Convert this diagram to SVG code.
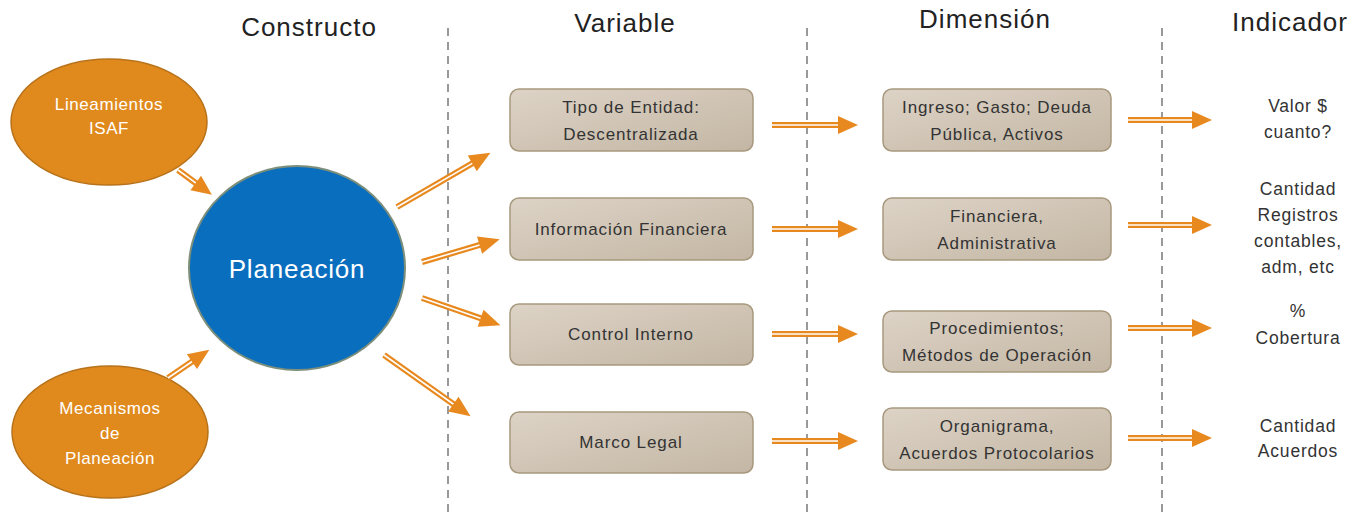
<svg xmlns="http://www.w3.org/2000/svg" width="1363" height="516" viewBox="0 0 1363 516">
<defs>
<linearGradient id="boxg" x1="0" y1="0" x2="1" y2="1">
<stop offset="0" stop-color="#ddd3c6"/>
<stop offset="1" stop-color="#c3b6a4"/>
</linearGradient>
<style>
.hdr{font-family:"Liberation Sans",Arial,sans-serif;font-size:26px;letter-spacing:1px;fill:#222;text-anchor:middle}
.div{stroke:#999;stroke-width:2;stroke-dasharray:8 6;fill:none}
.box{fill:url(#boxg);stroke:#a8997e;stroke-width:1.5}
.bt{font-family:"Liberation Sans",Arial,sans-serif;font-size:17px;letter-spacing:0.9px;fill:#333;text-anchor:middle}
.it{font-family:"Liberation Sans",Arial,sans-serif;font-size:17.5px;letter-spacing:0.8px;fill:#333;text-anchor:middle}
.oe{fill:#e08a1d;stroke:#b8721a;stroke-width:1.5}
.ot{font-family:"Liberation Sans",Arial,sans-serif;font-size:17px;letter-spacing:0.6px;fill:#fff;text-anchor:middle}
.sh{stroke:#e8891f;stroke-width:6;fill:none}
.core{stroke:#fff;stroke-width:1.6;fill:none}
.hd{fill:#e8891f}
</style>
</defs>
<rect width="1363" height="516" fill="#fff"/>
<g id="dividers">
<line class="div" x1="448" y1="28" x2="448" y2="516"/>
<line class="div" x1="807" y1="28" x2="807" y2="516"/>
<line class="div" x1="1162" y1="28" x2="1162" y2="516"/>
</g>
<g id="headers">
<text class="hdr" x="309" y="36">Constructo</text>
<text class="hdr" x="625" y="32">Variable</text>
<text class="hdr" x="985" y="28">Dimensión</text>
<text class="hdr" x="1290" y="31">Indicador</text>
</g>
<g id="node-lineamientos">
<ellipse class="oe" cx="109" cy="122" rx="98" ry="63"/>
<text class="ot" x="109" y="110">Lineamientos</text>
<text class="ot" x="109" y="134">ISAF</text>
</g>
<g id="node-mecanismos">
<ellipse class="oe" cx="110" cy="432" rx="98" ry="66"/>
<text class="ot" x="110" y="414">Mecanismos</text>
<text class="ot" x="110" y="439">de</text>
<text class="ot" x="110" y="464">Planeación</text>
</g>
<g id="node-planeacion">
<ellipse cx="297" cy="268" rx="108" ry="102" fill="#0a6ebf" stroke="#7d8f7a" stroke-width="2"/>
<text x="297" y="278" font-family="Liberation Sans, Arial, sans-serif" font-size="26" letter-spacing="0.8" fill="#fff" text-anchor="middle">Planeación</text>
</g>
<g id="node-v1"><rect class="box" x="510" y="89" width="243" height="62" rx="9"/><text class="bt" x="631" y="113">Tipo de Entidad:</text><text class="bt" x="631" y="140">Descentralizada</text></g>
<g id="node-v2"><rect class="box" x="510" y="198" width="243" height="62" rx="9"/><text class="bt" x="631" y="235">Información Financiera</text></g>
<g id="node-v3"><rect class="box" x="510" y="304" width="243" height="61" rx="9"/><text class="bt" x="631" y="340">Control Interno</text></g>
<g id="node-v4"><rect class="box" x="510" y="412" width="243" height="61" rx="9"/><text class="bt" x="631" y="448">Marco Legal</text></g>
<g id="node-d1"><rect class="box" x="883" y="89" width="228" height="62" rx="9"/><text class="bt" x="997" y="113">Ingreso; Gasto; Deuda</text><text class="bt" x="997" y="140">Pública, Activos</text></g>
<g id="node-d2"><rect class="box" x="883" y="198" width="228" height="62" rx="9"/><text class="bt" x="997" y="222">Financiera,</text><text class="bt" x="997" y="249">Administrativa</text></g>
<g id="node-d3"><rect class="box" x="883" y="311" width="228" height="61" rx="9"/><text class="bt" x="997" y="334">Procedimientos;</text><text class="bt" x="997" y="361">Métodos de Operación</text></g>
<g id="node-d4"><rect class="box" x="883" y="408" width="228" height="62" rx="9"/><text class="bt" x="997" y="432">Organigrama,</text><text class="bt" x="997" y="459">Acuerdos Protocolarios</text></g>
<g id="node-i1"><text class="it" x="1298" y="112">Valor $</text><text class="it" x="1298" y="138">cuanto?</text></g>
<g id="node-i2"><text class="it" x="1298" y="195">Cantidad</text><text class="it" x="1298" y="221">Registros</text><text class="it" x="1298" y="247">contables,</text><text class="it" x="1298" y="273">adm, etc</text></g>
<g id="node-i3"><text class="it" x="1298" y="317">%</text><text class="it" x="1298" y="344">Cobertura</text></g>
<g id="node-i4"><text class="it" x="1298" y="432">Cantidad</text><text class="it" x="1298" y="457">Acuerdos</text></g>
<g id="connectors">
<g transform="translate(178,170) rotate(36.3)"><line class="sh" x1="0" y1="0" x2="24" y2="0"/><line class="core" x1="0" y1="0" x2="24" y2="0"/><polygon class="hd" points="22,-9 42,0 22,9"/></g>
<g transform="translate(168,378) rotate(-34.3)"><line class="sh" x1="0" y1="0" x2="31" y2="0"/><line class="core" x1="0" y1="0" x2="31" y2="0"/><polygon class="hd" points="29,-9 50,0 29,9"/></g>
<g transform="translate(397,207) rotate(-30.1)"><line class="sh" x1="0" y1="0" x2="89" y2="0"/><line class="core" x1="0" y1="0" x2="89" y2="0"/><polygon class="hd" points="87,-9 108,0 87,9"/></g>
<g transform="translate(422,262) rotate(-16.4)"><line class="sh" x1="0" y1="0" x2="62" y2="0"/><line class="core" x1="0" y1="0" x2="62" y2="0"/><polygon class="hd" points="60,-9 81,0 60,9"/></g>
<g transform="translate(422,298) rotate(19.1)"><line class="sh" x1="0" y1="0" x2="64" y2="0"/><line class="core" x1="0" y1="0" x2="64" y2="0"/><polygon class="hd" points="62,-9 83,0 62,9"/></g>
<g transform="translate(384,355) rotate(35.3)"><line class="sh" x1="0" y1="0" x2="87" y2="0"/><line class="core" x1="0" y1="0" x2="87" y2="0"/><polygon class="hd" points="85,-9 106,0 85,9"/></g>
<g transform="translate(772,125)"><line class="sh" x1="0" y1="0" x2="68" y2="0"/><line class="core" x1="0" y1="0" x2="68" y2="0"/><polygon class="hd" points="66,-9 86,0 66,9"/></g>
<g transform="translate(772,229)"><line class="sh" x1="0" y1="0" x2="68" y2="0"/><line class="core" x1="0" y1="0" x2="68" y2="0"/><polygon class="hd" points="66,-9 86,0 66,9"/></g>
<g transform="translate(772,334)"><line class="sh" x1="0" y1="0" x2="68" y2="0"/><line class="core" x1="0" y1="0" x2="68" y2="0"/><polygon class="hd" points="66,-9 86,0 66,9"/></g>
<g transform="translate(772,441)"><line class="sh" x1="0" y1="0" x2="68" y2="0"/><line class="core" x1="0" y1="0" x2="68" y2="0"/><polygon class="hd" points="66,-9 86,0 66,9"/></g>
<g transform="translate(1128,120)"><line class="sh" x1="0" y1="0" x2="66" y2="0"/><line class="core" x1="0" y1="0" x2="66" y2="0"/><polygon class="hd" points="64,-9 84,0 64,9"/></g>
<g transform="translate(1128,225)"><line class="sh" x1="0" y1="0" x2="66" y2="0"/><line class="core" x1="0" y1="0" x2="66" y2="0"/><polygon class="hd" points="64,-9 84,0 64,9"/></g>
<g transform="translate(1128,328)"><line class="sh" x1="0" y1="0" x2="66" y2="0"/><line class="core" x1="0" y1="0" x2="66" y2="0"/><polygon class="hd" points="64,-9 84,0 64,9"/></g>
<g transform="translate(1128,438)"><line class="sh" x1="0" y1="0" x2="66" y2="0"/><line class="core" x1="0" y1="0" x2="66" y2="0"/><polygon class="hd" points="64,-9 84,0 64,9"/></g>
</g>
</svg>
